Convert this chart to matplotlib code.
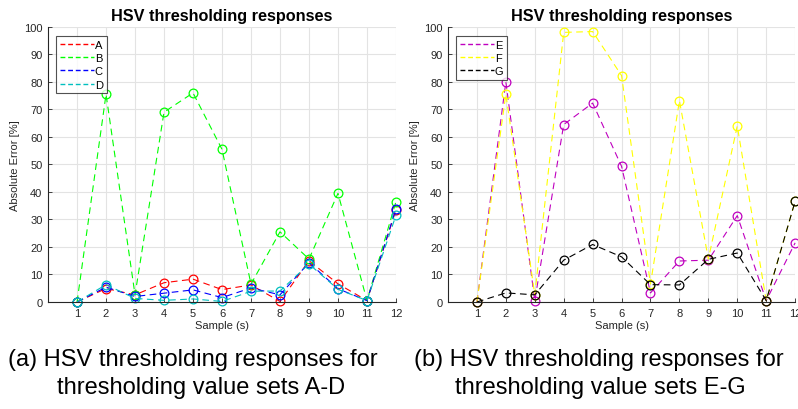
import matplotlib
matplotlib.use("Agg")
import matplotlib.pyplot as plt
from matplotlib import font_manager

samples = list(range(1, 13))
A = [0, 4.9, 2.6, 7.0, 8.3, 4.5, 6.2, 0.2, 15.0, 6.6, 0.5, 33.5]
B = [0, 75.5, 2.6, 69.0, 76.0, 55.5, 6.5, 25.5, 15.6, 39.5, 0.5, 36.5]
C = [0, 5.4, 2.0, 3.2, 4.4, 1.6, 5.1, 2.6, 14.3, 4.8, 0.5, 33.9]
D = [0, 6.3, 1.3, 0.6, 1.1, 0.2, 3.9, 4.0, 13.8, 4.6, 0.5, 31.5]
E = [0, 80.0, 0.5, 64.5, 72.3, 49.3, 3.3, 14.9, 15.2, 31.4, 0.5, 21.5]
F = [0, 75.5, 2.6, 98.0, 98.3, 82.3, 6.5, 73.2, 15.6, 64.0, 0.5, 36.6]
G = [0, 3.3, 2.6, 15.2, 20.9, 16.4, 6.3, 6.2, 15.5, 17.8, 0.5, 36.6]

left_series = [("A", A, "r"), ("B", B, "#00ff00"), ("C", C, "b"), ("D", D, "c")]
right_series = [("E", E, "m"), ("F", F, "#ffff00"), ("G", G, "k")]

title = "HSV thresholding responses"
xlabel = "Sample (s)"
ylabel = "Absolute Error [%]"
cap_a = ["(a) HSV thresholding responses for", "thresholding value sets A-D"]
cap_b = ["(b) HSV thresholding responses for", "thresholding value sets E-G"]

names = {f.name for f in font_manager.fontManager.ttflist}
plot_font = "Liberation Sans" if "Liberation Sans" in names else "DejaVu Sans"
cap_font = "Liberation Sans Narrow" if "Liberation Sans Narrow" in names else plot_font
plt.rcParams['font.family'] = [plot_font, 'DejaVu Sans']

fig = plt.figure(figsize=(7.98, 4.10), dpi=100)
ax1 = fig.add_axes([0.0602, 0.261, 0.436, 0.671])
ax2 = fig.add_axes([0.5614, 0.261, 0.435, 0.671])

for ax, series in [(ax1, left_series), (ax2, right_series)]:
    for name, vals, col in series:
        ax.plot(samples, vals, linestyle=(0, (6, 4)), color=col, lw=0.8,
                marker='o', markersize=6.3, markerfacecolor='none',
                markeredgewidth=0.9, label=name, clip_on=False)
    ax.set_xlim(0, 12)
    ax.set_ylim(0, 100)
    ax.set_xticks(samples)
    ax.set_yticks(range(0, 101, 10))
    ax.grid(True, color='#e3e3e3', lw=0.8)
    ax.set_axisbelow(True)
    for s in ['top', 'right']:
        ax.spines[s].set_visible(False)
    for s in ['left', 'bottom']:
        ax.spines[s].set_color('#262626')
        ax.spines[s].set_linewidth(0.8)
    ax.tick_params(direction='in', length=3, width=0.6, colors='#262626',
                   labelsize=8, pad=4)
    ax.set_title(title, fontsize=11.7, fontweight='bold', pad=5)
    ax.set_xlabel(xlabel, fontsize=8, color='#262626', labelpad=2)
    ax.set_ylabel(ylabel, fontsize=8, color='#262626', labelpad=3)
    leg = ax.legend(loc='upper left', bbox_to_anchor=(0.024, 0.968),
                    fontsize=8, handlelength=3.0, handletextpad=0.1,
                    labelspacing=0.3, borderpad=0.35, frameon=True,
                    fancybox=False, borderaxespad=0)
    leg.get_frame().set_edgecolor('#262626')
    leg.get_frame().set_linewidth(0.8)
    for h in leg.legend_handles:
        h.set_marker('')
        h.set_linestyle((0, (3.5, 2)))
        h.set_linewidth(1.0)

cap_fs = 17
fig.text(0.010, 0.122, cap_a[0], fontsize=cap_fs, family=[cap_font, 'DejaVu Sans'], va='center')
fig.text(0.071, 0.054, cap_a[1], fontsize=cap_fs, family=[cap_font, 'DejaVu Sans'], va='center')
fig.text(0.519, 0.122, cap_b[0], fontsize=cap_fs, family=[cap_font, 'DejaVu Sans'], va='center')
fig.text(0.570, 0.054, cap_b[1], fontsize=cap_fs, family=[cap_font, 'DejaVu Sans'], va='center')

fig.savefig("out.png", dpi=100)
